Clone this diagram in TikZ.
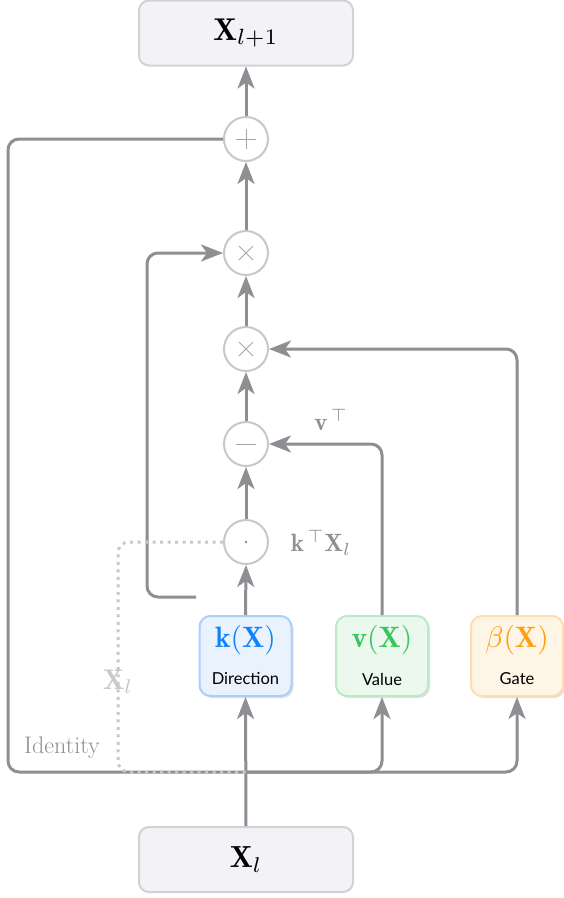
\documentclass[tikz,border=0pt]{standalone}
\usepackage{graphicx}
\usepackage{fontspec}
\newfontfamily\labelsans{Lato}
\usetikzlibrary{arrows.meta,shadows,calc}

\definecolor{wire}{HTML}{8E8E93}
\definecolor{ring}{HTML}{C7C7CC}
\definecolor{faint}{HTML}{C7C7CC}
\definecolor{panelfill}{HTML}{F2F2F7}
\definecolor{panelline}{HTML}{D1D1D6}
\definecolor{kblue}{HTML}{0A84FF}
\definecolor{kfill}{HTML}{EAF2FE}
\definecolor{kline}{HTML}{A9D0FB}
\definecolor{vgreen}{HTML}{34C759}
\definecolor{vfill}{HTML}{EBF8EE}
\definecolor{vline}{HTML}{BCE9C6}
\definecolor{gorange}{HTML}{FF9F0A}
\definecolor{gfill}{HTML}{FFF5E7}
\definecolor{gline}{HTML}{FFDCA8}

% math set at 10pt and enlarged, so every glyph scales smoothly
\newcommand{\bigmath}[2]{\scalebox{#1}{\fontsize{10}{12}\selectfont $#2$}}

\tikzset{
  x=1pt, y=-1pt,
  panel/.style={draw=panelline, fill=panelfill, line width=2pt, rounded corners=10pt,
    minimum width=214pt, minimum height=65pt, inner sep=0pt},
  opc/.style={circle, draw=ring, fill=white, line width=2pt, minimum size=44pt, inner sep=0pt},
  proj/.style={rounded corners=11pt, line width=2pt, minimum width=92pt, minimum height=80pt,
    inner sep=0pt, drop shadow={shadow xshift=2pt, shadow yshift=-2pt, opacity=0.12, fill=black}},
  wireline/.style={draw=wire, line width=3pt, rounded corners=11pt},
  arr/.style={wireline, -{Stealth[length=22pt, width=17pt, inset=6pt]}},
  skip/.style={draw=faint, line width=3pt, dash pattern=on 3pt off 4.5pt, rounded corners=11pt},
  sym/.style={draw=wire!80, line width=1pt},
}

\begin{document}
\begin{tikzpicture}
\useasboundingbox (0,0) rectangle (563,898);

% input and output panels
\node[panel] (xout) at (246,33) {\bigmath{3.15}{\mathbf{X}_{l+1}}};
\node[panel] (xin) at (246,859.5) {\bigmath{3.05}{\mathbf{X}_{l}}};

% operator circles
\node[opc] (plus) at (246,139) {};
\node[opc] (mulb) at (246,253) {};
\node[opc] (mula) at (246,349) {};
\node[opc] (minus) at (246,444) {};
\node[opc] (dotp) at (246,542) {};

% operator glyphs
\draw[sym] ($(plus)+(-10,0)$) -- ($(plus)+(10,0)$) ($(plus)+(0,-10)$) -- ($(plus)+(0,10)$);
\draw[sym] ($(mulb)+(-7,-7)$) -- ($(mulb)+(7,7)$) ($(mulb)+(-7,7)$) -- ($(mulb)+(7,-7)$);
\draw[sym] ($(mula)+(-7,-7)$) -- ($(mula)+(7,7)$) ($(mula)+(-7,7)$) -- ($(mula)+(7,-7)$);
\draw[sym] ($(minus)+(-10,0)$) -- ($(minus)+(10,0)$);
\fill[wire] (dotp) circle (1.3pt);

% projection boxes
\node[proj, draw=kline, fill=kfill] (kbox) at (245.5,656) {};
\node[kblue] at (245.5,640) {\bigmath{2.95}{\mathbf{k}(\mathbf{X})}};
\node at (245.5,679) {\labelsans\fontsize{16.5}{20}\selectfont Direction};

\node[proj, draw=vline, fill=vfill] (vbox) at (382,656) {};
\node[vgreen] at (382,640) {\bigmath{2.95}{\mathbf{v}(\mathbf{X})}};
\node at (382,679) {\labelsans\fontsize{16.5}{20}\selectfont Value};

\node[proj, draw=gline, fill=gfill] (gbox) at (517,656) {};
\node[gorange] at (517,640) {\bigmath{2.95}{\beta(\mathbf{X})}};
\node at (517,679) {\labelsans\fontsize{16.5}{20}\selectfont Gate};

% routing points
\coordinate (jn) at (246,772);
\coordinate (lowleft) at (8,772);
\coordinate (upleft) at (8,139);
\coordinate (kstub) at (196,597);
\coordinate (loopx) at (147,0);
\coordinate (skipx) at (118,0);

% main spine
\draw[arr] (xin.north) -- (kbox.south);
\draw[arr] (kbox.north) -- (dotp.south);
\draw[arr] (dotp.north) -- (minus.south);
\draw[arr] (minus.north) -- (mula.south);
\draw[arr] (mula.north) -- (mulb.south);
\draw[arr] (mulb.north) -- (plus.south);
\draw[arr] (plus.north) -- (xout.south);

% bus feeding value and gate
\draw[arr] (jn) -| (vbox.south);
\draw[arr] (jn) -| (gbox.south);

% identity path to the sum
\draw[wireline] (jn) -- (lowleft) -- (upleft) -- (plus.west);

% direction loop into the second product
\draw[arr] (kstub) -- (kstub -| loopx) |- (mulb.west);

% value and gate into the operators
\draw[arr] (vbox.north) |- (minus.east);
\draw[arr] (gbox.north) |- (mula.east);

% dotted skip of X_l into the inner product
\draw[skip] (dotp.west) -- (dotp -| skipx) -- (jn -| skipx) -- (jn);

% labels
\node[text=wire] at (331,420) {\bigmath{2.5}{\mathbf{v}^{\,\top}}};
\node[text=wire] at (321,543) {\bigmath{2.5}{\mathbf{k}^{\,\top}\mathbf{X}_{l}}};
\node[text=faint] at (118,682) {\bigmath{2.85}{\mathbf{X}_{l}}};
\node[text=wire] at (62,748) {\fontsize{24}{28}\selectfont Identity};
\end{tikzpicture}
\end{document}
